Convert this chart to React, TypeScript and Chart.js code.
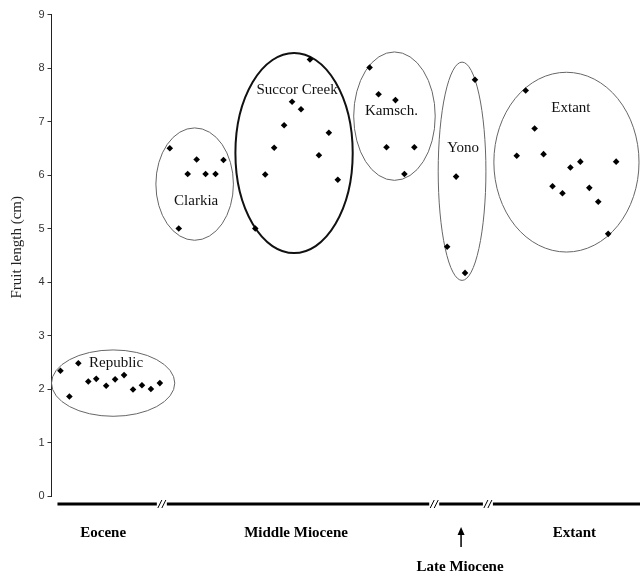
import React, { useEffect, useRef } from 'react';
import { Chart, registerables } from 'chart.js';

Chart.register(...registerables);

// ---- data ----
const groupNames = ['Republic', 'Clarkia', 'Succor Creek', 'Kamsch.', 'Yono', 'Extant'];

const republicX = [9, 18, 27, 37, 45, 55, 64, 73, 82, 91, 100, 109];
const republicY = [2.34, 1.86, 2.48, 2.14, 2.19, 2.06, 2.18, 2.26, 1.99, 2.07, 2.0, 2.11];

const clarkiaX = [119, 146, 173, 137, 155, 165, 128];
const clarkiaY = [6.5, 6.29, 6.28, 6.02, 6.02, 6.02, 5.0];

const succorX = [260, 242, 251, 234, 279, 224, 269, 215, 288, 205];
const succorY = [8.16, 7.37, 7.23, 6.93, 6.79, 6.51, 6.37, 6.01, 5.91, 5.0];

const kamschX = [320, 329, 346, 337, 365, 355];
const kamschY = [8.01, 7.51, 7.4, 6.52, 6.52, 6.02];

const yonoX = [426, 407, 398, 416];
const yonoY = [7.78, 5.97, 4.66, 4.17];

const extantX = [477, 486, 468, 495, 522, 532, 568, 504, 514, 541, 550, 560];
const extantY = [7.58, 6.87, 6.36, 6.39, 6.14, 6.25, 6.25, 5.79, 5.66, 5.76, 5.5, 4.9];

const groupX = [republicX, clarkiaX, succorX, kamschX, yonoX, extantX];
const groupY = [republicY, clarkiaY, succorY, kamschY, yonoY, extantY];

// grouping ellipses (centre and radii in data units)
const ellipseCx = [62, 144, 244, 345, 413, 518];
const ellipseRx = [62, 39, 59, 41, 24, 73];
const ellipseCy = [2.11, 5.83, 6.41, 7.1, 6.07, 6.24];
const ellipseRy = [0.62, 1.05, 1.87, 1.2, 2.04, 1.68];
const ellipseBold = [false, false, true, false, false, false];

const labelX = [65, 145.5, 247, 342, 414, 522.5];
const labelY = [2.49, 5.51, 7.59, 7.2, 6.5, 7.25];

const yTickValues = [0, 1, 2, 3, 4, 5, 6, 7, 8, 9];
const yTitle = 'Fruit length (cm)';

// time line along the bottom
const timelineStart = 6;
const axisBreaks = [111, 385, 439];
const eraNames = ['Eocene', 'Middle Miocene', 'Extant'];
const eraLabelX = [52, 246, 526];
const lateMioceneLabel = 'Late Miocene';
const lateMioceneX = 412;

const X_MAX = 592;

const decorPlugin = {
  id: 'decor',
  beforeDatasetsDraw(chart: any) {
    const { ctx, scales } = chart;
    const xs = scales.x;
    const ys = scales.y;
    ctx.save();
    for (let i = 0; i < ellipseCx.length; i++) {
      const cx = xs.getPixelForValue(ellipseCx[i]);
      const rx = xs.getPixelForValue(ellipseCx[i] + ellipseRx[i]) - cx;
      const cy = ys.getPixelForValue(ellipseCy[i]);
      const ry = Math.abs(ys.getPixelForValue(ellipseCy[i] + ellipseRy[i]) - cy);
      ctx.beginPath();
      ctx.ellipse(cx, cy, rx, ry, 0, 0, Math.PI * 2);
      ctx.lineWidth = ellipseBold[i] ? 2 : 1;
      ctx.strokeStyle = ellipseBold[i] ? '#111' : '#666';
      ctx.stroke();
    }
    ctx.restore();
  },
  afterDraw(chart: any) {
    const { ctx, scales, chartArea } = chart;
    const xs = scales.x;
    const ys = scales.y;
    ctx.save();
    // group labels
    ctx.fillStyle = '#111';
    ctx.font = '15px "Liberation Serif", "Times New Roman", serif';
    ctx.textAlign = 'center';
    ctx.textBaseline = 'middle';
    for (let i = 0; i < groupNames.length; i++) {
      ctx.fillText(groupNames[i], xs.getPixelForValue(labelX[i]), ys.getPixelForValue(labelY[i]));
    }
    // y title
    ctx.save();
    ctx.translate(17, (chartArea.top + chartArea.bottom) / 2 - 8);
    ctx.rotate(-Math.PI / 2);
    ctx.font = '15px "Liberation Serif", "Times New Roman", serif';
    ctx.fillStyle = '#222';
    ctx.fillText(yTitle, 0, 0);
    ctx.restore();

    // time line
    const lineY = chartArea.bottom + 8;
    const gap = 5;
    const pts = [xs.getPixelForValue(timelineStart)];
    axisBreaks.forEach((b) => {
      const p = xs.getPixelForValue(b);
      pts.push(p - gap, p + gap);
    });
    pts.push(chartArea.right);
    ctx.strokeStyle = '#000';
    ctx.lineWidth = 3;
    for (let i = 0; i < pts.length; i += 2) {
      ctx.beginPath();
      ctx.moveTo(pts[i], lineY);
      ctx.lineTo(pts[i + 1], lineY);
      ctx.stroke();
    }
    ctx.lineWidth = 1;
    axisBreaks.forEach((b) => {
      const p = xs.getPixelForValue(b);
      [-2, 2].forEach((o) => {
        ctx.beginPath();
        ctx.moveTo(p + o - 2, lineY + 4);
        ctx.lineTo(p + o + 2, lineY - 4);
        ctx.stroke();
      });
    });

    // era labels
    ctx.font = 'bold 15px "Liberation Serif", "Times New Roman", serif';
    ctx.fillStyle = '#000';
    for (let i = 0; i < eraNames.length; i++) {
      ctx.fillText(eraNames[i], xs.getPixelForValue(eraLabelX[i]), chartArea.bottom + 37);
    }
    // arrow for late Miocene
    const ax = xs.getPixelForValue(lateMioceneX);
    ctx.lineWidth = 1.5;
    ctx.beginPath();
    ctx.moveTo(ax, chartArea.bottom + 51);
    ctx.lineTo(ax, chartArea.bottom + 34);
    ctx.stroke();
    ctx.beginPath();
    ctx.moveTo(ax - 3.5, chartArea.bottom + 39);
    ctx.lineTo(ax, chartArea.bottom + 31);
    ctx.lineTo(ax + 3.5, chartArea.bottom + 39);
    ctx.closePath();
    ctx.fill();
    ctx.fillText(lateMioceneLabel, ax - 1, chartArea.bottom + 71);
    ctx.restore();
  },
};

export default function App() {
  const ref = useRef<HTMLCanvasElement>(null);

  useEffect(() => {
    if (!ref.current) return;
    const datasets = groupNames.map((name, gi) => ({
      label: name,
      data: groupX[gi].map((x, i) => ({ x, y: groupY[gi][i] })),
      pointStyle: 'rectRot' as const,
      pointRadius: 3.3,
      backgroundColor: '#000',
      borderColor: '#000',
      borderWidth: 0,
      showLine: false,
    }));
    const chart = new Chart(ref.current, {
      type: 'scatter',
      data: { datasets },
      plugins: [decorPlugin],
      options: {
        animation: false,
        responsive: true,
        maintainAspectRatio: false,
        layout: { padding: { top: 14.5, bottom: 81, left: 0, right: 0 } },
        plugins: { legend: { display: false }, tooltip: { enabled: false } },
        scales: {
          x: { type: 'linear', min: 0, max: X_MAX, display: false },
          y: {
            type: 'linear',
            min: 0,
            max: 9,
            afterFit: (s: any) => {
              s.width = 51.5;
            },
            afterBuildTicks: (s: any) => {
              s.ticks = yTickValues.map((v) => ({ value: v }));
            },
            ticks: {
              padding: 3,
              color: '#333',
              font: { family: '"Liberation Sans Narrow", "Liberation Sans", Arial, sans-serif', size: 11 },
            },
            grid: { drawOnChartArea: false, drawTicks: true, tickLength: 4, color: '#333' },
            border: { display: true, color: '#222', width: 1 },
          },
        },
      },
    });
    return () => chart.destroy();
  }, []);

  return (
    <div style={{ position: 'fixed', left: 0, top: 0, width: 644, height: 577, background: '#fff' }}>
      <canvas ref={ref} />
    </div>
  );
}
